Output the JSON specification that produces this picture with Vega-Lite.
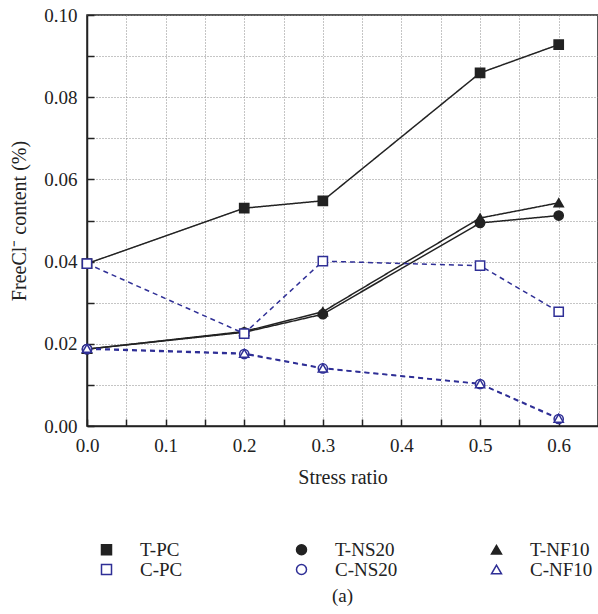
{
  "$schema": "https://vega.github.io/schema/vega-lite/v6.json",
  "width": 511,
  "height": 411,
  "autosize": "none",
  "padding": {"left": 87, "top": 15, "right": 0, "bottom": 188},
  "background": "white",
  "config": {
    "font": "Liberation Serif",
    "view": {"stroke": "#222222", "strokeWidth": 1.5},
    "axis": {
      "domainColor": "#222222",
      "domainWidth": 1.5,
      "tickColor": "#222222",
      "tickWidth": 1.5,
      "tickSize": -7,
      "labelFont": "Liberation Serif",
      "labelFontSize": 19,
      "labelColor": "#222222",
      "labelFlush": false,
      "labelOverlap": false,
      "titleFont": "Liberation Serif",
      "titleFontSize": 20,
      "titleFontWeight": "normal",
      "titleColor": "#222222",
      "gridColor": "#8a8a8a",
      "gridDash": [1, 2],
      "gridWidth": 1
    },
    "legend": {
      "orient": "none",
      "legendX": 10,
      "legendY": 525,
      "direction": "horizontal",
      "columns": 3,
      "gridAlign": "all",
      "columnPadding": 89,
      "rowPadding": 0,
      "symbolSize": 100,
      "symbolStrokeWidth": 1.5,
      "symbolOpacity": 1,
      "labelFont": "Liberation Serif",
      "labelFontSize": 19,
      "labelColor": "#222222",
      "labelOffset": 24,
      "labelLimit": 200
    }
  },
  "title": {
    "text": "(a)",
    "orient": "bottom",
    "offset": 7,
    "font": "Liberation Serif",
    "fontSize": 19,
    "fontWeight": "normal",
    "color": "#222222"
  },
  "data": {
    "values": [
      {"series": "T-PC", "grp": "T-PC", "stress": 0.0, "cl": 0.0395},
      {"series": "T-PC", "grp": "T-PC", "stress": 0.2, "cl": 0.0530},
      {"series": "T-PC", "grp": "T-PC", "stress": 0.3, "cl": 0.0548},
      {"series": "T-PC", "grp": "T-PC", "stress": 0.5, "cl": 0.0859},
      {"series": "T-PC", "grp": "T-PC", "stress": 0.6, "cl": 0.0928},
      {"series": "T-NS20", "grp": "T-NS20", "stress": 0.0, "cl": 0.0187},
      {"series": "T-NS20", "grp": "T-NS20", "stress": 0.2, "cl": 0.0228},
      {"series": "T-NS20", "grp": "T-NS20", "stress": 0.3, "cl": 0.0272},
      {"series": "T-NS20", "grp": "T-NS20", "stress": 0.5, "cl": 0.0494},
      {"series": "T-NS20", "grp": "T-NS20", "stress": 0.6, "cl": 0.0512},
      {"series": "T-NF10", "grp": "T-NF10", "stress": 0.0, "cl": 0.0187},
      {"series": "T-NF10", "grp": "T-NF10", "stress": 0.2, "cl": 0.0230},
      {"series": "T-NF10", "grp": "T-NF10", "stress": 0.3, "cl": 0.0278},
      {"series": "T-NF10", "grp": "T-NF10", "stress": 0.5, "cl": 0.0506},
      {"series": "T-NF10", "grp": "T-NF10", "stress": 0.6, "cl": 0.0543},
      {"series": "C-PC", "grp": "C-PC", "stress": 0.0, "cl": 0.0395},
      {"series": "C-PC", "grp": "C-PC", "stress": 0.2, "cl": 0.0225},
      {"series": "C-PC", "grp": "C-PC", "stress": 0.3, "cl": 0.0401},
      {"series": "C-PC", "grp": "C-PC", "stress": 0.5, "cl": 0.0390},
      {"series": "C-PC", "grp": "C-PC", "stress": 0.6, "cl": 0.0278},
      {"series": "C-NS20", "grp": "C-NS20", "stress": 0.0, "cl": 0.0187},
      {"series": "C-NS20", "grp": "C-NS20", "stress": 0.2, "cl": 0.0175},
      {"series": "C-NS20", "grp": "C-NS20", "stress": 0.3, "cl": 0.0140},
      {"series": "C-NS20", "grp": "C-NS20", "stress": 0.5, "cl": 0.0102},
      {"series": "C-NS20", "grp": "C-NS20", "stress": 0.6, "cl": 0.0017},
      {"series": "C-NF10", "grp": "C-NF10", "stress": 0.0, "cl": 0.0189},
      {"series": "C-NF10", "grp": "C-NF10", "stress": 0.2, "cl": 0.0177},
      {"series": "C-NF10", "grp": "C-NF10", "stress": 0.3, "cl": 0.0141},
      {"series": "C-NF10", "grp": "C-NF10", "stress": 0.5, "cl": 0.0103},
      {"series": "C-NF10", "grp": "C-NF10", "stress": 0.6, "cl": 0.0019}
    ]
  },
  "encoding": {
    "x": {
      "field": "stress",
      "type": "quantitative",
      "title": "Stress ratio",
      "scale": {"domain": [0, 0.65], "nice": false, "zero": false},
      "axis": {
        "values": [0, 0.05, 0.1, 0.15, 0.2, 0.25, 0.3, 0.35, 0.4, 0.45, 0.5, 0.55, 0.6],
        "labelExpr": "abs(datum.value*10 - round(datum.value*10)) < 0.001 ? format(datum.value, '.1f') : ''",
        "grid": true,
        "labelPadding": 17,
        "titlePadding": 12
      }
    },
    "y": {
      "field": "cl",
      "type": "quantitative",
      "title": "FreeCl⁻ content (%)",
      "scale": {"domain": [0, 0.1], "nice": false, "zero": false},
      "axis": {
        "values": [0, 0.01, 0.02, 0.03, 0.04, 0.05, 0.06, 0.07, 0.08, 0.09, 0.1],
        "labelExpr": "round(datum.value*100) % 2 == 0 ? format(datum.value, '.2f') : ''",
        "grid": true,
        "labelPadding": 17,
        "titlePadding": 14
      }
    }
  },
  "layer": [
    {
      "mark": {"type": "line", "strokeWidth": 1.5},
      "encoding": {
        "color": {
          "field": "grp",
          "type": "nominal",
          "scale": {
            "domain": ["C-PC", "C-NS20", "C-NF10", "T-PC", "T-NS20", "T-NF10"],
            "range": ["#2f2f96", "#2f2f96", "#2f2f96", "#222222", "#222222", "#222222"]
          },
          "legend": null
        },
        "strokeDash": {
          "field": "grp",
          "type": "nominal",
          "scale": {
            "domain": ["C-PC", "C-NS20", "C-NF10", "T-PC", "T-NS20", "T-NF10"],
            "range": [[5, 4], [5, 4], [5, 4], [1, 0], [1, 0], [1, 0]]
          },
          "legend": null
        }
      }
    },
    {
      "mark": {"type": "point", "filled": false, "strokeWidth": 1.5, "opacity": 1},
      "encoding": {
        "size": {
          "field": "grp",
          "type": "nominal",
          "scale": {
            "domain": ["C-PC", "C-NS20", "C-NF10", "T-PC", "T-NS20", "T-NF10"],
            "range": [85, 85, 100, 100, 95, 115]
          },
          "legend": null
        },
        "shape": {
          "field": "series",
          "type": "nominal",
          "title": null,
          "scale": {
            "domain": ["T-PC", "T-NS20", "T-NF10", "C-PC", "C-NS20", "C-NF10"],
            "range": ["square", "circle", "triangle-up", "square", "circle", "triangle-up"]
          }
        },
        "fill": {
          "field": "series",
          "type": "nominal",
          "title": null,
          "scale": {
            "domain": ["T-PC", "T-NS20", "T-NF10", "C-PC", "C-NS20", "C-NF10"],
            "range": ["#222222", "#222222", "#222222", "#ffffff", "#ffffff", "#ffffff"]
          }
        },
        "stroke": {
          "field": "series",
          "type": "nominal",
          "title": null,
          "scale": {
            "domain": ["T-PC", "T-NS20", "T-NF10", "C-PC", "C-NS20", "C-NF10"],
            "range": ["#222222", "#222222", "#222222", "#2f2f96", "#2f2f96", "#2f2f96"]
          }
        }
      }
    }
  ]
}
